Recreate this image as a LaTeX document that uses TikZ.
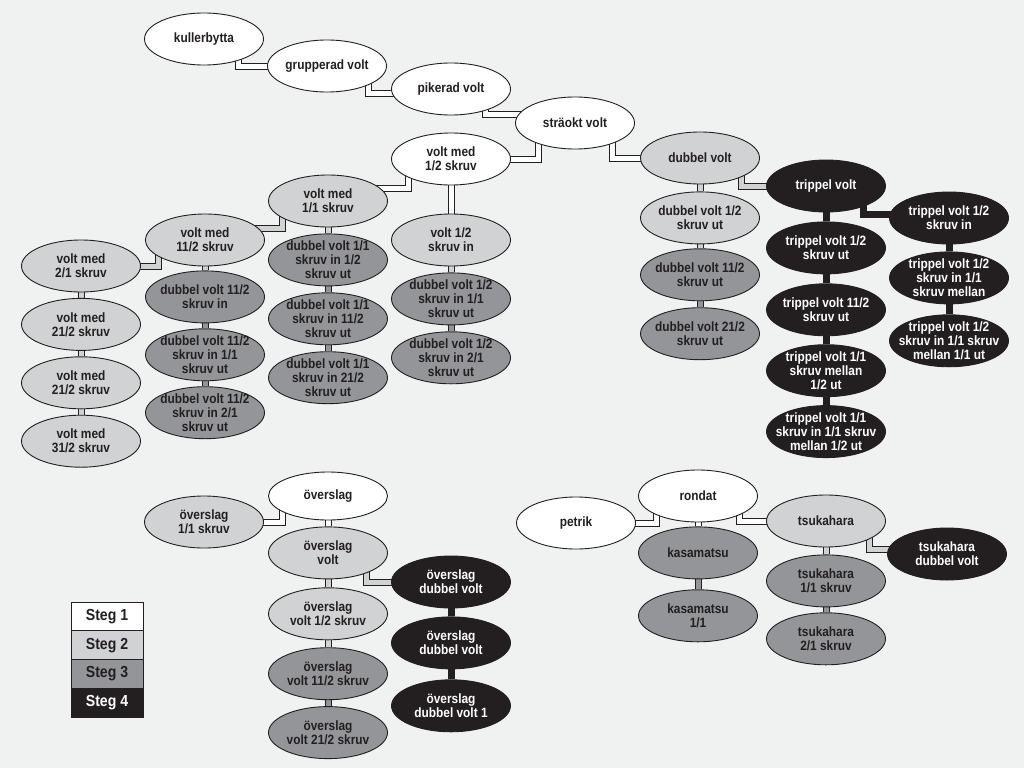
\documentclass[tikz,border=0pt]{standalone}
\usepackage{fontspec}
\setmainfont{Liberation Sans}[FakeStretch=0.88]
\usetikzlibrary{positioning, shapes.geometric, calc}
\definecolor{paper}{HTML}{F0F1F1}
\definecolor{ink}{HTML}{231F20}
\definecolor{stegone}{HTML}{FFFFFF}
\definecolor{stegtwo}{HTML}{D1D2D3}
\definecolor{stegthree}{HTML}{939598}
\definecolor{stegfour}{HTML}{231F20}
\pgfdeclarelayer{paperlayer}
\pgfdeclarelayer{pipelayer}
\pgfsetlayers{paperlayer,pipelayer,main}

\begin{document}
\begin{tikzpicture}[
    x=1pt, y=-1pt,
    node distance = 6pt,
    skill/.style={shape=ellipse, draw=ink, line width=0.9pt, minimum width=119pt, minimum height=52pt,
        inner xsep=-14pt, inner ysep=-6pt, align=center, text=ink,
        font=\bfseries\fontsize{13.5}{14}\selectfont},
    steg1/.style={skill, fill=stegone},
    steg2/.style={skill, fill=stegtwo},
    steg3/.style={skill, fill=stegthree},
    steg4/.style={skill, fill=stegfour, text=white},
    pipe/.style={draw=ink, line width=1pt, double=#1, double distance=5pt},
    stegkey/.style={draw=ink, line width=1pt, minimum width=72pt, minimum height=28.75pt, outer sep=0pt,
        text=ink, font=\bfseries\fontsize{16}{18}\selectfont},
]
\begin{pgfonlayer}{paperlayer}
\fill[paper] (0,0) rectangle (1024,768);
\end{pgfonlayer}
\useasboundingbox (0,0) rectangle (1024,768);

% volt
\node[steg1] (kull) at (204,39) {kullerbytta};
\node[steg1] (grup) at (327,66) {grupperad volt};
\node[steg1] (pike) at (451,89) {pikerad volt};
\node[steg1] (strak) at (575,123) {sträokt volt};
\node[steg1] (halv) at (451,159) {volt med\\1/2 skruv};
\node[steg2] (dub) at (700,158) {dubbel volt};

\node[steg2] (v11) at (328,201) {volt med\\1/1 skruv};
\node[steg3, below=of v11] (d11a) {dubbel volt 1/1\\skruv in 1/2\\skruv ut};
\node[steg3, below=of d11a] (d11b) {dubbel volt 1/1\\skruv in 11/2\\skruv ut};
\node[steg3, below=of d11b] (d11c) {dubbel volt 1/1\\skruv in 21/2\\skruv ut};

\node[steg2] (v112) at (205,240) {volt med\\11/2 skruv};
\node[steg3, below=4pt of v112] (d112in) {dubbel volt 11/2\\skruv in};
\node[steg3, below=5pt of d112in] (d112a) {dubbel volt 11/2\\skruv in 1/1\\skruv ut};
\node[steg3, below=5pt of d112a] (d112b) {dubbel volt 11/2\\skruv in 2/1\\skruv ut};

\node[steg2] (v21) at (81,266) {volt med\\2/1 skruv};
\node[steg2, below=5.5pt of v21] (v212a) {volt med\\21/2 skruv};
\node[steg2, below=5.5pt of v212a] (v212b) {volt med\\21/2 skruv};
\node[steg2, below=5.5pt of v212b] (v312) {volt med\\31/2 skruv};

\node[steg2] (vhin) at (451,240) {volt 1/2\\skruv in};
\node[steg3, below=of vhin] (dh11) {dubbel volt 1/2\\skruv in 1/1\\skruv ut};
\node[steg3, below=of dh11] (dh21) {dubbel volt 1/2\\skruv in 2/1\\skruv ut};

\node[steg2, below=7pt of dub] (dhut) {dubbel volt 1/2\\skruv ut};
\node[steg3, below=4pt of dhut] (d112ut) {dubbel volt 11/2\\skruv ut};
\node[steg3, below=6pt of d112ut] (d212ut) {dubbel volt 21/2\\skruv ut};

\node[steg4] (trip) at (826,186) {trippel volt};
\node[steg4, below=9pt of trip] (t1) {trippel volt 1/2\\skruv ut};
\node[steg4, below=9pt of t1] (t2) {trippel volt 11/2\\skruv ut};
\node[steg4, below=8pt of t2] (t3) {trippel volt 1/1\\skruv mellan\\1/2 ut};
\node[steg4, below=8pt of t3] (t4) {trippel volt 1/1\\skruv in 1/1 skruv\\mellan 1/2 ut};

\node[steg4] (ti1) at (949,218) {trippel volt 1/2\\skruv in};
\node[steg4, below=7pt of ti1] (ti2) {trippel volt 1/2\\skruv in 1/1\\skruv mellan};
\node[steg4, below=10pt of ti2] (ti3) {trippel volt 1/2\\skruv in 1/1 skruv\\mellan 1/1 ut};

% överslag
\node[steg1, minimum height=48pt] (overs) at (328,496) {överslag};
\node[steg2] (ov11) at (204,522) {överslag\\1/1 skruv};
\node[steg2, below=6pt of overs] (ovv) {överslag\\volt};
\node[steg2, below=8pt of ovv] (ovvh) {överslag\\volt 1/2 skruv};
\node[steg3, below=7pt of ovvh] (ov112) {överslag\\volt 11/2 skruv};
\node[steg3, below=6pt of ov112] (ov212) {överslag\\volt 21/2 skruv};
\node[steg4] (ovd1) at (451,582) {överslag\\dubbel volt};
\node[steg4, below=8pt of ovd1] (ovd2) {överslag\\dubbel volt};
\node[steg4, below=10pt of ovd2] (ovd3) {överslag\\dubbel volt 1};

% rondat
\node[steg1] (rond) at (698,496) {rondat};
\node[steg1] (petr) at (576,523) {petrik};
\node[steg3, below=4pt of rond] (kas) {kasamatsu};
\node[steg3, below=10pt of kas] (kas11) {kasamatsu\\1/1};
\node[steg2] (tsu) at (826,521) {tsukahara};
\node[steg4] (tsud) at (947,554) {tsukahara\\dubbel volt};
\node[steg3, below=7pt of tsu] (tsu11) {tsukahara\\1/1 skruv};
\node[steg3, below=5pt of tsu11] (tsu21) {tsukahara\\2/1 skruv};

% steg
\node[stegkey, fill=stegone] (leg1) at (107,616.5) {Steg 1};
\node[stegkey, fill=stegtwo, below=0pt of leg1] (leg2) {Steg 2};
\node[stegkey, fill=stegthree, below=0pt of leg2] (leg3) {Steg 3};
\node[stegkey, fill=stegfour, text=white, below=0pt of leg3] (leg4) {Steg 4};

\begin{pgfonlayer}{pipelayer}
\draw[pipe=stegone] ($(kull.center)+(34,0)$) |- (grup.center);
\draw[pipe=stegone] ($(grup.center)+(41,0)$) |- ($(pike.center)+(0,4)$);
\draw[pipe=stegone] ($(pike.center)+(34,0)$) |- ($(strak.center)+(0,-9)$);
\draw[pipe=stegone] ($(strak.center)+(-37,0)$) |- (halv.center);
\draw[pipe=stegone] ($(strak.center)+(37,0)$) |- (dub.center);
\draw[pipe=stegone] ($(halv.center)+(-43,0)$) |- ($(v11.center)+(0,-13)$);
\draw[pipe=stegone] (halv) -- (vhin);
\draw[pipe=stegtwo] ($(v11.center)+(-46,0)$) |- ($(v112.center)+(0,-12)$);
\draw[pipe=stegtwo] ($(v112.center)+(-47,0)$) |- (v21.center);
\draw[pipe=stegtwo] ($(dub.center)+(41,0)$) |- (trip.center);
\draw[pipe=stegfour] ($(trip.center)+(37,0)$) |- ($(ti1.center)+(0,-4)$);

\draw[pipe=stegtwo] (v21) -- (v212a);
\draw[pipe=stegtwo] (v212a) -- (v212b);
\draw[pipe=stegtwo] (v212b) -- (v312);
\draw[pipe=stegtwo] (v112) -- (d112in);
\draw[pipe=stegthree] (d112in) -- (d112a);
\draw[pipe=stegthree] (d112a) -- (d112b);
\draw[pipe=stegtwo] (v11) -- (d11a);
\draw[pipe=stegthree] (d11a) -- (d11b);
\draw[pipe=stegthree] (d11b) -- (d11c);
\draw[pipe=stegtwo] (vhin) -- (dh11);
\draw[pipe=stegthree] (dh11) -- (dh21);
\draw[pipe=stegtwo] (dub) -- (dhut);
\draw[pipe=stegtwo] (dhut) -- (d112ut);
\draw[pipe=stegthree] (d112ut) -- (d212ut);
\draw[pipe=stegfour] (trip) -- (t1);
\draw[pipe=stegfour] (t1) -- (t2);
\draw[pipe=stegfour] (t2) -- (t3);
\draw[pipe=stegfour] (t3) -- (t4);
\draw[pipe=stegfour] (ti1) -- (ti2);
\draw[pipe=stegfour] (ti2) -- (ti3);

\draw[pipe=stegone] ($(overs.center)+(-46,0)$) |- (ov11.center);
\draw[pipe=stegone] (overs) -- (ovv);
\draw[pipe=stegtwo] ($(ovv.center)+(38,0)$) |- (ovd1.center);
\draw[pipe=stegtwo] (ovv) -- (ovvh);
\draw[pipe=stegtwo] (ovvh) -- (ov112);
\draw[pipe=stegthree] (ov112) -- (ov212);
\draw[pipe=stegfour] (ovd1) -- (ovd2);
\draw[pipe=stegfour] (ovd2) -- (ovd3);

\draw[pipe=stegone] ($(rond.center)+(-42,0)$) |- (petr.center);
\draw[pipe=stegone] ($(rond.center)+(41,0)$) |- (tsu.center);
\draw[pipe=stegone] (rond) -- (kas);
\draw[pipe=stegthree] (kas) -- (kas11);
\draw[pipe=stegtwo] ($(tsu.center)+(43,0)$) |- ($(tsud.center)+(0,-5)$);
\draw[pipe=stegtwo] (tsu) -- (tsu11);
\draw[pipe=stegthree] (tsu11) -- (tsu21);
\end{pgfonlayer}
\end{tikzpicture}
\end{document}
